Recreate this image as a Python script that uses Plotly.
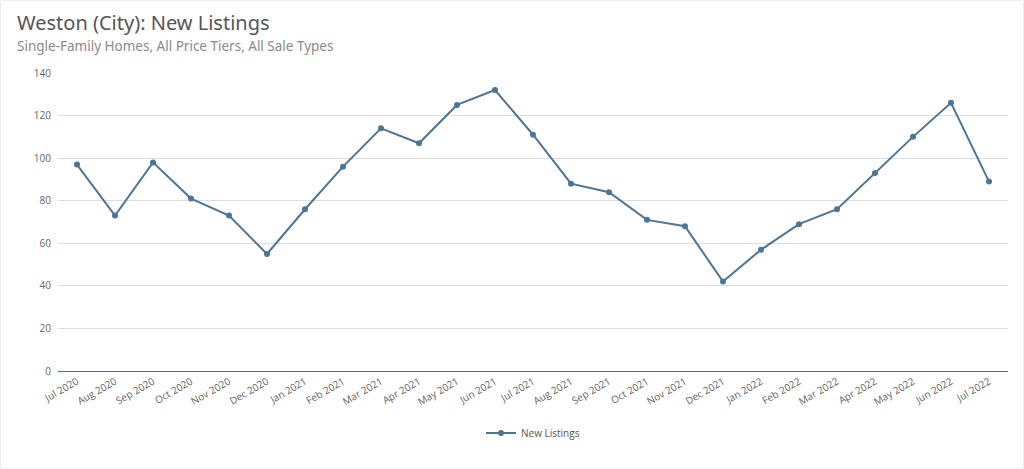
import plotly.graph_objects as go

months = ["Jul 2020", "Aug 2020", "Sep 2020", "Oct 2020", "Nov 2020", "Dec 2020",
          "Jan 2021", "Feb 2021", "Mar 2021", "Apr 2021", "May 2021", "Jun 2021",
          "Jul 2021", "Aug 2021", "Sep 2021", "Oct 2021", "Nov 2021", "Dec 2021",
          "Jan 2022", "Feb 2022", "Mar 2022", "Apr 2022", "May 2022", "Jun 2022",
          "Jul 2022"]
new_listings = [97, 73, 98, 81, 73, 55, 76, 96, 114, 107, 125, 132,
                111, 88, 84, 71, 68, 42, 57, 69, 76, 93, 110, 126, 89]
y_ticks = [0, 20, 40, 60, 80, 100, 120, 140]

LINE = "#4d7594"

W, H = 1024, 469
L, R, T, B = 58, 16, 73, 98
PW, PH = W - L - R, H - T - B


def px_x(x):
    return (x - L) / PW


def px_y(y):
    return (H - B - y) / PH


fig = go.Figure()
fig.add_trace(go.Scatter(
    x=months, y=new_listings, mode="lines+markers", name="New Listings",
    line=dict(color=LINE, width=2),
    marker=dict(color=LINE, size=6),
))

fig.update_layout(
    width=W, height=H,
    paper_bgcolor="white", plot_bgcolor="white",
    margin=dict(l=L, r=R, t=T, b=B, autoexpand=False),
    font=dict(family="Open Sans, Noto Sans, sans-serif", color="#666666", size=10),
    showlegend=True,
    legend=dict(orientation="h", x=0.5, xanchor="center", y=px_y(433), yanchor="middle",
                font=dict(size=10, color="#555555")),
    xaxis=dict(
        type="category", range=[-0.5, len(months) - 0.5], automargin=False,
        tickangle=-30, showgrid=False, showline=True, linecolor="#666666", linewidth=1,
        ticks="", tickfont=dict(size=10, color="#666666"),
    ),
    yaxis=dict(
        range=[0, 140], tickvals=y_ticks, showgrid=True, gridcolor="#dddddd",
        zeroline=False, showline=False, ticks="", ticklabelstandoff=6, automargin=False,
        tickfont=dict(size=10, color="#666666"),
    ),
    annotations=[
        dict(text="Weston (City): New Listings", xref="paper", yref="paper",
             x=px_x(15), y=px_y(22), xanchor="left", yanchor="middle", showarrow=False,
             font=dict(family="Noto Sans, Open Sans, sans-serif", size=20, color="#555555")),
        dict(text="Single-Family Homes, All Price Tiers, All Sale Types", xref="paper", yref="paper",
             x=px_x(15), y=px_y(46), xanchor="left", yanchor="middle", showarrow=False,
             font=dict(family="Noto Sans, Open Sans, sans-serif", size=13.5, color="#8a8a8a")),
    ],
    shapes=[
        dict(type="rect", xref="paper", yref="paper",
             x0=px_x(0.5), x1=px_x(W - 0.5), y0=px_y(H - 0.5), y1=px_y(0.5),
             line=dict(color="#eeeeee", width=1), layer="below"),
    ],
)

fig.write_html("out.html", config={"displayModeBar": False},
               post_script="document.body.style.margin='0';document.body.style.overflow='hidden';")
